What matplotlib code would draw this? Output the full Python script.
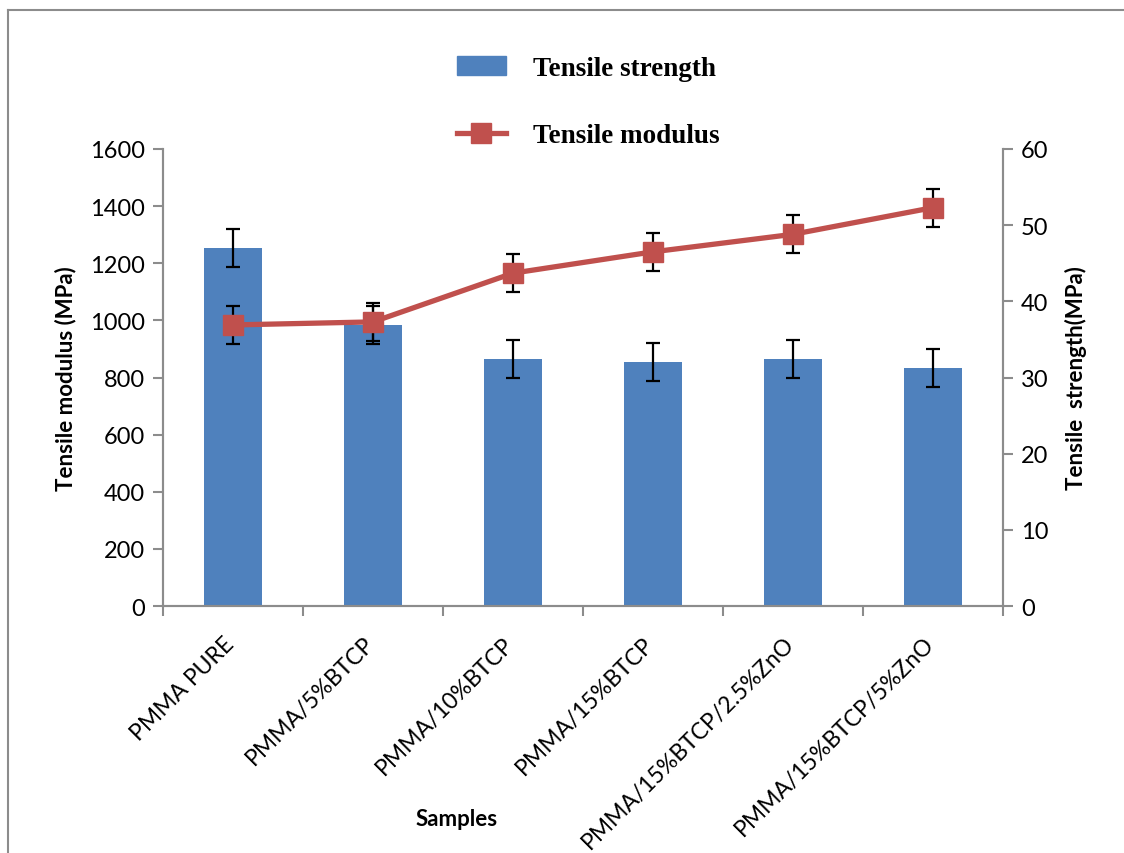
import numpy as np
import matplotlib.pyplot as plt
import matplotlib.transforms as mtransforms
from matplotlib.lines import Line2D

samples = ["PMMA PURE", "PMMA/5%BTCP", "PMMA/10%BTCP", "PMMA/15%BTCP",
           "PMMA/15%BTCP/2.5%ZnO", "PMMA/15%BTCP/5%ZnO"]
# bars, read against the left axis
bar_vals = [1253, 984, 865, 854, 865, 833]
bar_err = [66, 66, 66, 66, 66, 66]
# line, read against the right axis
line_vals = [36.9, 37.3, 43.7, 46.5, 48.8, 52.3]
line_err = [2.5, 2.5, 2.5, 2.5, 2.5, 2.5]

blue = "#4F81BD"
red = "#C0504D"
grey = "#8C8C8C"
tick_font = "Lato"

fig = plt.figure(figsize=(11.24, 8.54), dpi=100)
ax = fig.add_axes([163/1124, 1-607/854, 840/1124, 457/854])
ax2 = ax.twinx()

x = np.arange(len(samples))
ax.bar(x, bar_vals, width=0.41, color=blue, zorder=2)
ax.errorbar(x, bar_vals, yerr=bar_err, fmt="none", ecolor="black",
            elinewidth=1.6, capsize=4.8, capthick=1.6, zorder=3)

ax2.plot(x, line_vals, color=red, lw=3.8, marker="s", markersize=14,
         markeredgecolor=red, zorder=4)
ax2.errorbar(x, line_vals, yerr=line_err, fmt="none", ecolor="black",
             elinewidth=1.6, capsize=4.8, capthick=1.6, zorder=3)

ax.set_xlim(-0.5, len(samples) - 0.5)
ax.set_ylim(0, 1600)
ax2.set_ylim(0, 60)
ax.set_yticks(range(0, 1601, 200))
ax2.set_yticks(range(0, 61, 10))

# ticks between categories, labels at the category centres
ax.set_xticks(np.arange(-0.5, len(samples), 1.0))
ax.set_xticklabels([])
ax.set_xticks(x, minor=True)
ax.set_xticklabels(samples, minor=True, rotation=45, ha="right", va="top",
                   rotation_mode="anchor", fontsize=16.5, family=tick_font)
ax.tick_params(axis="x", which="minor", length=0, pad=19)
ax.tick_params(axis="x", which="major", length=7, width=1.5, color=grey,
               direction="out")
shift = mtransforms.ScaledTranslation(-10/100, 0, fig.dpi_scale_trans)
for lab in ax.get_xticklabels(minor=True):
    lab.set_transform(lab.get_transform() + shift)

for a in (ax, ax2):
    a.tick_params(axis="y", length=7, width=1.5, color=grey, labelsize=17,
                  pad=6)
    for lab in a.get_yticklabels():
        lab.set_family(tick_font)
    for s in a.spines.values():
        s.set_color(grey)
        s.set_linewidth(1.5)
    a.spines["top"].set_visible(False)

ax.set_ylabel("Tensile modulus (MPa)", fontsize=16, fontweight="bold",
              family=tick_font, labelpad=10)
ax2.set_ylabel("Tensile  strength(MPa)", fontsize=16, fontweight="bold",
               family=tick_font, labelpad=12)
fig.text(457/1124, 1-820/854, "Samples", fontsize=16, fontweight="bold",
         family=tick_font, ha="center", va="center")

handles = [plt.Rectangle((0, 0), 1, 1, color=blue),
           Line2D([0], [0], color=red, lw=3.8, marker="s", markersize=14)]
fig.legend(handles, ["Tensile strength", "Tensile modulus"],
           loc="center", bbox_to_anchor=(588/1124, 1-103/854), frameon=False,
           prop={"family": "Liberation Serif", "weight": "bold", "size": 19.5},
           handlelength=1.8, handletextpad=1.0, labelspacing=1.55)

# outer chart border (top and left visible in the crop)
fig.add_artist(Line2D([8/1124, 1], [1-11/854, 1-11/854], color=grey, lw=1.5,
                      transform=fig.transFigure))
fig.add_artist(Line2D([8/1124, 8/1124], [0, 1-11/854], color=grey, lw=1.5,
                      transform=fig.transFigure))

fig.savefig("out.png", dpi=100)
